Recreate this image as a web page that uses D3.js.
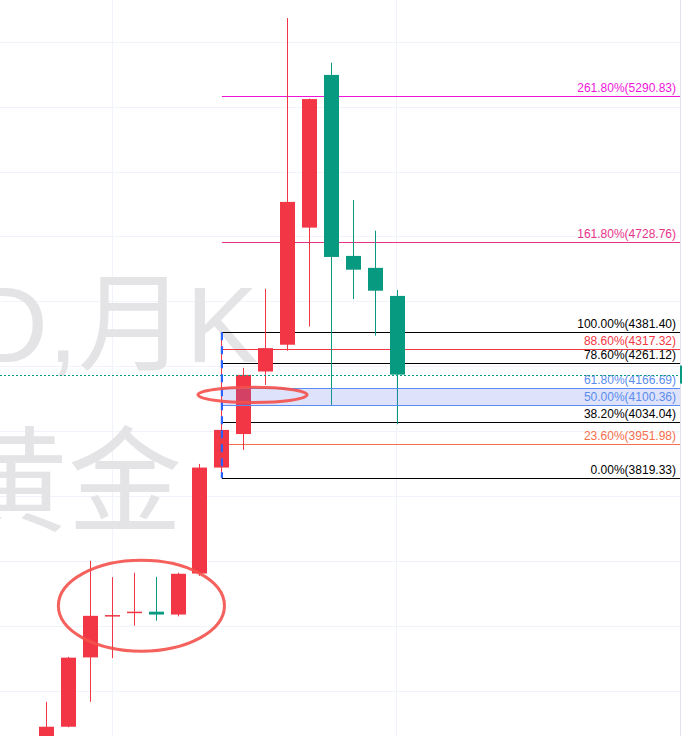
<!DOCTYPE html>
<html><head><meta charset="utf-8">
<script src="https://cdn.jsdelivr.net/npm/d3@7"></script>
<style>html,body{margin:0;padding:0;background:#fff;overflow:hidden}</style>
</head><body><svg id="c" width="682" height="736"></svg>
<script>
// ---- data ----
const candleIndex = [0,1,2,3,4,5,6,7,8,9,10,11,12,13,14,15,16];
const opens  = [2735, 2862, 3129, 3289, 3302, 3305, 3294, 3452, 3860, 3989, 4230, 4333, 4784, 5372, 4675, 4629, 4521];
const highs  = [2958, 3131, 3501, 3438, 3455, 3439, 3455, 3874, 4381.40, 4244, 4548, 5591, 5281, 5419, 4890, 4772, 4544];
const lows   = [2700, 2860, 2958, 3126, 3251, 3270, 3287, 3443, 3819.33, 3928, 4178, 4310, 4403, 4101, 4509, 4368, 4027];
const closes = [2862, 3128, 3289, 3292, 3305, 3294, 3451, 3860, 4005, 4217, 4320, 4883, 5279, 4671, 4622, 4541, 4218];

const fibRatios = ["0.00%", "23.60%", "38.20%", "50.00%", "61.80%", "78.60%", "88.60%", "100.00%", "161.80%", "261.80%"];
const fibValues = [3819.33, 3951.98, 4034.04, 4100.36, 4166.69, 4261.12, 4317.32, 4381.40, 4728.76, 5290.83];
const fibColors = ["#000000", "#F56E4C", "#000000", "#5B8DEF", "#5B8DEF", "#000000", "#F23645", "#000000", "#E8338A", "#F014DA"];
const fibStartIndex = 8;

const gridPrices = [5500, 5250, 5000, 4750, 4500, 4250, 4000, 3750, 3500, 3250, 3000];
const gridIndex = [3, 15.95];
const watermarkLines = ["XAUUSD,月K", "黄金"];
// annotation ellipses in data units: centre index, centre price, x radius (candles), y radius (price)
const ellipseCx = [4.35, 9.42];
const ellipseCy = [3328, 4140];
const ellipseRx = [3.79, 2.49];
const ellipseRy = [175, 29.6];

// ---- layout ----
const W = 682, H = 736, paneRight = 680.5;
const svg = d3.select("#c");
const x = d3.scaleLinear().domain([0, 16]).range([46.1, 396.7]);
const y = d3.scaleLinear().domain([2826.3, 5660.5]).range([H, 0]);
const step = x(1) - x(0);
const bodyW = 15;
const up = "#F23645", down = "#089981";

// grid
svg.append("g").selectAll("line").data(gridPrices).join("line")
  .attr("x1", 0).attr("x2", paneRight).attr("y1", d => Math.round(y(d)) + 0.5).attr("y2", d => Math.round(y(d)) + 0.5)
  .attr("stroke", "#F0F3FA").attr("stroke-width", 1);
svg.append("g").selectAll("line").data(gridIndex).join("line")
  .attr("y1", 0).attr("y2", H).attr("x1", d => Math.round(x(d)) + 0.5).attr("x2", d => Math.round(x(d)) + 0.5)
  .attr("stroke", "#F0F3FA").attr("stroke-width", 1);

// watermark
const wm = svg.append("g").attr("fill", "#E4E4E6")
  .style("font-family", "'Liberation Sans', 'Noto Sans CJK SC', sans-serif");
wm.append("text").attr("x", 258).attr("y", 362).attr("text-anchor", "end")
  .style("font-size", "108px").text(watermarkLines[0]);
wm.append("text").attr("x", 182).attr("y", 522).attr("text-anchor", "end")
  .style("font-family", "'Noto Sans CJK SC', sans-serif")
  .style("font-size", "114px").text(watermarkLines[1]);

// fib lines (beneath candles)
const fibX1 = x(fibStartIndex) + 0.5;
const fg = svg.append("g");
fg.selectAll("line").data(fibValues).join("line")
  .attr("x1", fibX1).attr("x2", paneRight)
  .attr("y1", d => Math.round(y(d)) + 0.5).attr("y2", d => Math.round(y(d)) + 0.5)
  .attr("stroke", (d, i) => fibColors[i]).attr("stroke-width", 1);

// candles
const cg = svg.append("g");
candleIndex.forEach(i => {
  const o = opens[i], c = closes[i], col = c >= o ? up : down;
  const cx = Math.round(x(i)) + 0.5;
  cg.append("line").attr("x1", cx).attr("x2", cx).attr("y1", y(highs[i])).attr("y2", y(lows[i]))
    .attr("stroke", col).attr("stroke-width", 1);
  const top = y(Math.max(o, c)), bot = y(Math.min(o, c));
  cg.append("rect").attr("x", Math.round(x(i)) - (bodyW - 1) / 2).attr("width", bodyW)
    .attr("y", top).attr("height", Math.max(1.5, bot - top)).attr("fill", col);
});

// 50%-61.8% band over candles
svg.append("rect").attr("x", fibX1).attr("width", paneRight - fibX1)
  .attr("y", Math.round(y(fibValues[4])) + 0.5).attr("height", y(fibValues[3]) - y(fibValues[4]))
  .attr("fill", "rgb(91,108,230)").attr("fill-opacity", 0.2);
[3, 4].forEach(k => {
  svg.append("line").attr("x1", fibX1).attr("x2", paneRight)
    .attr("y1", Math.round(y(fibValues[k])) + 0.5).attr("y2", Math.round(y(fibValues[k])) + 0.5)
    .attr("stroke", fibColors[k]).attr("stroke-width", 1);
});

// fib labels
svg.append("g").selectAll("text").data(fibValues).join("text")
  .attr("x", 676).attr("y", d => y(d) - 4).attr("text-anchor", "end")
  .attr("fill", (d, i) => fibColors[i])
  .style("font-family", "'Liberation Sans', Arial, sans-serif").style("font-size", "12px")
  .text((d, i) => fibRatios[i] + "(" + d.toFixed(2) + ")");

// current price dotted line
const lastC = closes[closes.length - 1];
svg.append("line").attr("x1", 0).attr("x2", paneRight)
  .attr("y1", Math.round(y(lastC)) + 0.5).attr("y2", Math.round(y(lastC)) + 0.5)
  .attr("stroke", down).attr("stroke-width", 1.2).attr("stroke-dasharray", "2,2");

// fib trend (dashed blue vertical)
svg.append("line").attr("x1", x(fibStartIndex) + 0.5).attr("x2", x(fibStartIndex) + 0.5)
  .attr("y1", y(fibValues[7])).attr("y2", y(fibValues[0]))
  .attr("stroke", "#2962FF").attr("stroke-width", 2.2).attr("stroke-dasharray", "8,6");

// annotation ellipses
svg.append("g").selectAll("ellipse").data(ellipseCx).join("ellipse")
  .attr("cx", d => x(d)).attr("cy", (d, i) => y(ellipseCy[i]))
  .attr("rx", (d, i) => ellipseRx[i] * step)
  .attr("ry", (d, i) => y(ellipseCy[i] - ellipseRy[i]) - y(ellipseCy[i]))
  .attr("fill", "none").attr("stroke", "#F4504A").attr("stroke-opacity", 0.9).attr("stroke-width", 3);

// pane border and price label edge
svg.append("line").attr("x1", paneRight).attr("x2", paneRight).attr("y1", 0).attr("y2", H)
  .attr("stroke", "#E0E3EB");
svg.append("rect").attr("x", 680).attr("width", 2).attr("y", y(lastC) - 9).attr("height", 18).attr("fill", down);
</script></body></html>
